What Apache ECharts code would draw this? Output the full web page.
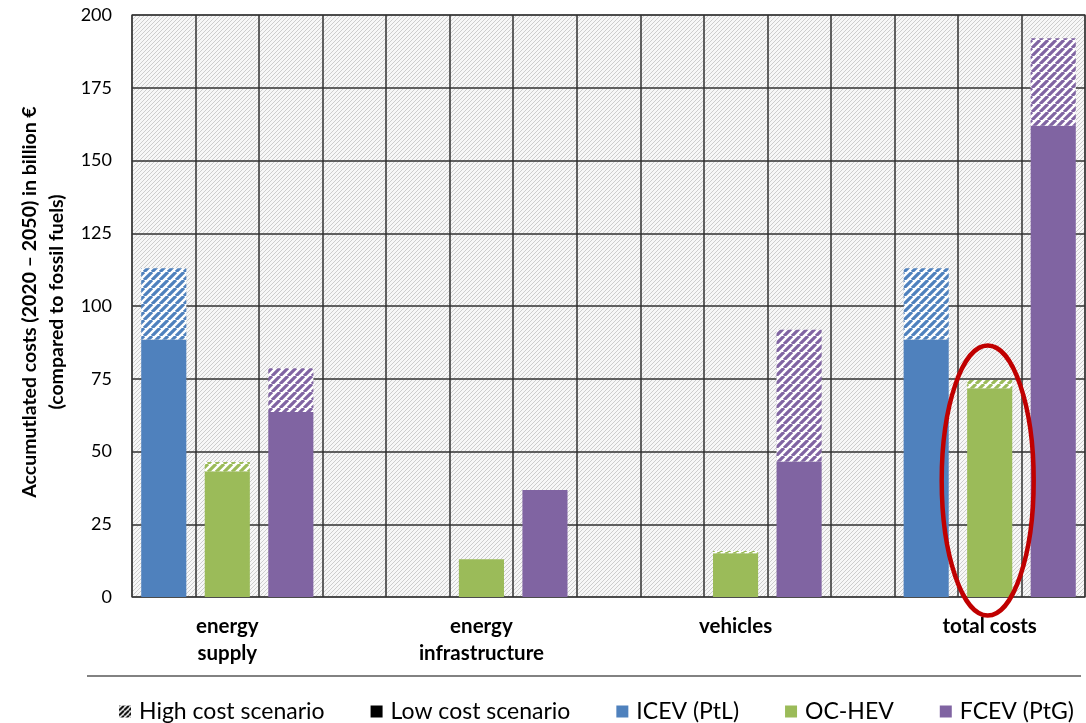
<!DOCTYPE html>
<html>
<head>
<meta charset="utf-8">
<script src="https://cdn.jsdelivr.net/npm/echarts@6/dist/echarts.min.js"></script>
<style>
  html, body { margin: 0; padding: 0; background: #fff; }
  #chart { width: 1086px; height: 723px; }
</style>
</head>
<body>
<div id="chart"></div>
<script>
// groups along the x axis, each one gets 3 slots + 1 empty slot
const groups = ['energy\nsupply', 'energy\ninfrastructure', 'vehicles', 'total costs']
const vehicles = ['ICEV (PtL)', 'OC-HEV', 'FCEV (PtG)']
const colors = ['#4f81bd', '#9bbb59', '#8064a2']

// low cost scenario (solid part), billion €
const lowICEV = [88.5, 0, 0, 88.5]
const lowOCHEV = [43.2, 13, 15, 71.7]
const lowFCEV = [63.6, 36.8, 46.6, 161.9]
// high cost scenario (top of hatched part), billion €
const highICEV = [113, 0, 0, 113]
const highOCHEV = [46.4, 13, 15.8, 74.6]
const highFCEV = [78.6, 36.8, 91.8, 192]

const yTicks = [0, 25, 50, 75, 100, 125, 150, 175, 200]

const lows = [lowICEV, lowOCHEV, lowFCEV]
const highs = [highICEV, highOCHEV, highFCEV]
const slotsPerGroup = 4
const slotCount = groups.length * slotsPerGroup - 1

// category slots, label only under the middle bar of each group
const slots = []
for (let i = 0; i < slotCount; i++) {
  const g = Math.floor(i / slotsPerGroup)
  slots.push(i % slotsPerGroup === 1 ? groups[g] : '')
}

const makePattern = (fg, bg, size, width) => {
  const c = document.createElement('canvas')
  c.width = size
  c.height = size
  const ctx = c.getContext('2d')
  ctx.fillStyle = bg
  ctx.fillRect(0, 0, size, size)
  ctx.strokeStyle = fg
  ctx.lineWidth = width
  ctx.beginPath()
  for (let k = -1; k <= 1; k++) {
    ctx.moveTo(k * size, size)
    ctx.lineTo(k * size + size, 0)
  }
  ctx.stroke()
  return { image: c, repeat: 'repeat' }
}

const slotData = (vals, s) => {
  const out = new Array(slotCount).fill(0)
  vals.forEach((v, g) => { out[g * slotsPerGroup + s] = v })
  return out
}

const series = []
vehicles.forEach((name, s) => {
  series.push({
    name: name,
    type: 'bar',
    stack: 'all',
    barWidth: '71%',
    itemStyle: { color: colors[s] },
    data: slotData(lows[s], s)
  })
  series.push({
    name: name + ' high',
    type: 'bar',
    stack: 'all',
    itemStyle: { color: makePattern(colors[s], '#ffffff', 8, 3.2) },
    data: slotData(highs[s].map((h, g) => +(h - lows[s][g]).toFixed(2)), s)
  })
})
// legend-only entries
series.unshift(
  { name: 'High cost scenario', type: 'bar', stack: 'all', itemStyle: { color: makePattern('#000000', '#ffffff', 5, 2) }, data: [] },
  { name: 'Low cost scenario', type: 'bar', stack: 'all', itemStyle: { color: '#000000' }, data: [] }
)

const font = 'Lato, "Open Sans", sans-serif'

const chart = echarts.init(document.getElementById('chart'))
const option = {
  animation: false,
  textStyle: { fontFamily: font },
  grid: {
    left: 132, right: 1, top: 15, bottom: 126,
    show: true,
    borderColor: '#808080',
    borderWidth: 1.5,
    backgroundColor: makePattern('#cdcdcd', '#f7f7f7', 4, 1)
  },
  legend: {
    data: ['High cost scenario', 'Low cost scenario', ...vehicles],
    left: 114,
    top: 695,
    itemWidth: 12,
    itemHeight: 12,
    itemGap: 46,
    icon: 'rect',
    selectedMode: false,
    textStyle: { fontSize: 23, color: '#000', fontFamily: font, padding: [0, 0, 0, 3] }
  },
  xAxis: {
    type: 'category',
    data: slots,
    axisLine: { show: false },
    axisTick: { show: false },
    axisLabel: {
      interval: 0,
      margin: 16,
      fontSize: 20.5,
      fontWeight: 'bold',
      color: '#000',
      lineHeight: 27
    },
    splitLine: { show: true, interval: 0, lineStyle: { color: '#303030', width: 1.5 } }
  },
  yAxis: {
    type: 'value',
    min: yTicks[0],
    max: yTicks[yTicks.length - 1],
    interval: yTicks[1] - yTicks[0],
    axisLine: { show: false },
    axisTick: { show: false },
    axisLabel: { fontSize: 18, color: '#000', margin: 20 },
    splitLine: { lineStyle: { color: '#303030', width: 1.5 } }
  },
  series: series
}
chart.setOption(option)

// annotation ellipse round the OC-HEV total bar, y-axis title and the separator line
const center = chart.convertToPixel({ xAxisIndex: 0, yAxisIndex: 0 }, [3 * slotsPerGroup + 1, 40])
chart.setOption({
  graphic: [
    {
      type: 'ellipse',
      z: 100,
      shape: { cx: center[0] - 2, cy: center[1], rx: 46, ry: 135 },
      style: { fill: 'none', stroke: '#c00000', lineWidth: 4.5 }
    },
    {
      type: 'text',
      x: 43,
      y: 302,
      rotation: Math.PI / 2,
      style: {
        text: 'Accumutlated costs (2020 – 2050) in billion €\n(compared to fossil fuels)',
        font: 'bold 19.5px Lato, "Open Sans", sans-serif',
        fill: '#000',
        align: 'center',
        verticalAlign: 'middle',
        lineHeight: 27
      }
    },
    {
      type: 'line',
      shape: { x1: 87, y1: 676, x2: 1081, y2: 676 },
      style: { stroke: '#595959', lineWidth: 1.5 }
    }
  ]
})
</script>
</body>
</html>
